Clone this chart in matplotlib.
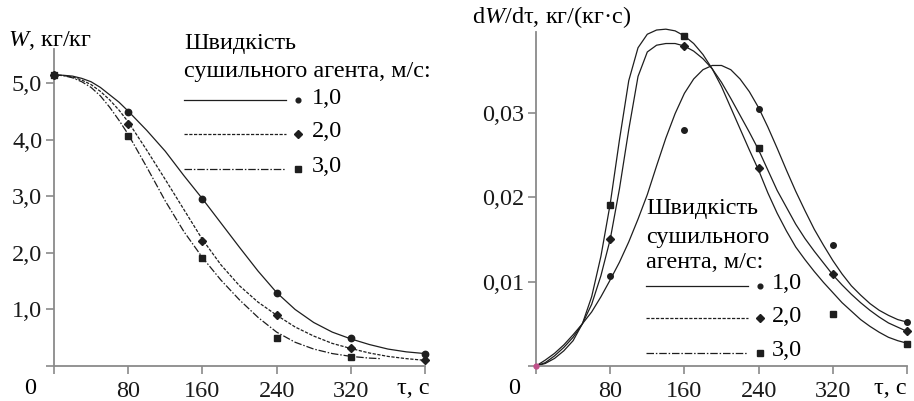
import matplotlib
matplotlib.use("Agg")
import matplotlib.pyplot as plt
from matplotlib.lines import Line2D

plt.rcParams['font.family'] = ['Liberation Serif', 'DejaVu Serif']
plt.rcParams['mathtext.fontset'] = 'custom'
plt.rcParams['mathtext.rm'] = 'Liberation Serif'
plt.rcParams['mathtext.it'] = 'Liberation Serif:italic'

# ---------------- data ----------------
speeds = ['1,0', '2,0', '3,0']

# measured moisture content W, kg/kg
t_pts = [0, 80, 160, 240, 320, 400]
W1_pts = [5.15, 4.50, 2.96, 1.29, 0.50, 0.22]
W2_pts = [5.15, 4.29, 2.21, 0.91, 0.32, 0.10]
t3_pts = [0, 80, 160, 240, 320]
W3_pts = [5.15, 4.07, 1.92, 0.50, 0.16]

# approximating curves W(t)
t_fit = [0, 10, 20, 30, 40, 50, 60, 70, 80, 100, 120, 140, 160, 180, 200, 220, 240, 260, 280, 300, 320, 340, 360, 380, 400]
W1_fit = [5.15, 5.145, 5.13, 5.09, 5.03, 4.93, 4.80, 4.67, 4.51, 4.17, 3.80, 3.37, 2.96, 2.53, 2.10, 1.68, 1.30, 1.00, 0.77, 0.60, 0.48, 0.38, 0.30, 0.25, 0.22]
W2_fit = [5.15, 5.14, 5.115, 5.06, 4.98, 4.86, 4.71, 4.53, 4.32, 3.82, 3.30, 2.77, 2.24, 1.79, 1.42, 1.13, 0.90, 0.69, 0.53, 0.40, 0.31, 0.23, 0.17, 0.13, 0.10]
t3_fit = [0, 10, 20, 30, 40, 50, 60, 70, 80, 100, 120, 140, 160, 180, 200, 220, 240, 260, 280, 300, 320, 340, 352]
W3_fit = [5.15, 5.14, 5.10, 5.03, 4.93, 4.78, 4.58, 4.35, 4.10, 3.52, 2.92, 2.38, 1.92, 1.52, 1.17, 0.86, 0.60, 0.42, 0.30, 0.22, 0.17, 0.14, 0.13]

# measured drying rate dW/dt, kg/(kg*s)
rate_t = [80, 160, 240, 320, 400]
R1_pts = [0.0107, 0.0280, 0.0305, 0.0143, 0.0052]
R2_pts = [0.0150, 0.0379, 0.0235, 0.0109, 0.0041]
R3_pts = [0.0191, 0.0391, 0.0258, 0.0062, 0.0026]

# approximating curves dW/dt (every 10 s)
t_rate = [0, 10, 20, 30, 40, 50, 60, 70, 80, 90, 100, 110, 120, 130, 140, 150, 160, 170, 180, 190,
          200, 210, 220, 230, 240, 250, 260, 270, 280, 290, 300, 310, 320, 330, 340, 350, 360, 370, 380, 390, 400]
RA_fit = [0, 0.0003, 0.0009, 0.0018, 0.0030, 0.0050, 0.0082, 0.0130, 0.0192, 0.0268, 0.0338, 0.0377, 0.0393, 0.0398,
          0.0399, 0.0397, 0.0391, 0.0382, 0.0369, 0.0352, 0.0331, 0.0306, 0.0281, 0.0256, 0.0232, 0.0205, 0.0181,
          0.0160, 0.0141, 0.0126, 0.0112, 0.0099, 0.0087, 0.0075, 0.0065, 0.0055, 0.0047, 0.0040, 0.0034, 0.0030, 0.0027]
RB_fit = [0, 0.0004, 0.0012, 0.0022, 0.0034, 0.0050, 0.0073, 0.0107, 0.0150, 0.0210, 0.0280, 0.0343, 0.0372, 0.0380,
          0.0382, 0.0382, 0.0379, 0.0373, 0.0364, 0.0352, 0.0336, 0.0317, 0.0297, 0.0277, 0.0256, 0.0232, 0.0208,
          0.0188, 0.0168, 0.0151, 0.0136, 0.0122, 0.0108, 0.0096, 0.0085, 0.0075, 0.0066, 0.0058, 0.0051, 0.0046, 0.0041]
RC_fit = [0, 0.0007, 0.0015, 0.0025, 0.0037, 0.0050, 0.0064, 0.0082, 0.0102, 0.0123, 0.0147, 0.0174, 0.0203, 0.0237,
          0.0270, 0.0299, 0.0323, 0.0340, 0.0351, 0.0356, 0.0356, 0.0351, 0.0340, 0.0325, 0.0306, 0.0283, 0.0258,
          0.0232, 0.0207, 0.0184, 0.0162, 0.0143, 0.0125, 0.0109, 0.0095, 0.0084, 0.0074, 0.0066, 0.0060, 0.0055, 0.0052]

x_ticks = [0, 80, 160, 240, 320, 400]
x_ticklabels = ['', '80', '160', '240', '320', '']
W_ticks = [0, 1, 2, 3, 4, 5]
W_ticklabels = ['', '1,0', '2,0', '3,0', '4,0', '5,0']
R_ticks = [0, 0.01, 0.02, 0.03]
R_ticklabels = ['', '0,01', '0,02', '0,03']

# ---------------- figure ----------------
W, H = 914, 401
fig = plt.figure(figsize=(W / 100, H / 100), dpi=100)

def fx(px):
    return px / W

def fy(py):
    return 1 - py / H

FS = 17.5
AX_COL = '#8a8a8a'
LN_COL = '#1e1e1e'
MK_COL = '#1e1e1e'
styles = ['-', (0, (2.6, 1.2)), (0, (6, 1.5, 1.2, 1.5))]
markers = ['o', 'D', 's']

def style_axes(ax):
    for s in ['top', 'right']:
        ax.spines[s].set_visible(False)
    for s in ['left', 'bottom']:
        ax.spines[s].set_color(AX_COL)
        ax.spines[s].set_linewidth(1.3)
    ax.tick_params(axis='both', direction='out', length=5.5, width=1.2,
                   color=AX_COL, labelsize=FS, labelcolor='#1a1a1a')
    ax.tick_params(axis='y', pad=3)
    ax.tick_params(axis='x', pad=5)
    ax.patch.set_alpha(0)

# ---- left axes ----
axL = fig.add_axes([fx(54), fy(366), fx(425) - fx(54), fy(49) - fy(366)])
style_axes(axL)
axL.set_xlim(0, 400)
axL.set_ylim(0, 5.61)
axL.set_xticks(x_ticks, x_ticklabels)
axL.set_yticks(W_ticks, W_ticklabels)

axL.plot(t_fit, W1_fit, color=LN_COL, lw=0.9, ls=styles[0], clip_on=False)
axL.plot(t_fit, W2_fit, color=LN_COL, lw=0.9, ls=styles[1], clip_on=False)
axL.plot(t3_fit, W3_fit, color=LN_COL, lw=0.9, ls=styles[2], clip_on=False)
axL.plot(t3_pts, W3_pts, ls='none', marker='s', ms=4.3, color=MK_COL, clip_on=False, zorder=4)
axL.plot(t_pts, W1_pts, ls='none', marker='o', ms=4.6, color=MK_COL, clip_on=False, zorder=4)
axL.plot(t_pts, W2_pts, ls='none', marker='D', ms=4.3, color=MK_COL, clip_on=False, zorder=5)

# ---- right axes ----
axR = fig.add_axes([fx(536), fy(366), fx(907) - fx(536), fy(31.7) - fy(366)])
style_axes(axR)
axR.set_xlim(0, 400)
axR.set_ylim(0, 0.0396)
axR.set_xticks(x_ticks, x_ticklabels)
axR.set_yticks(R_ticks, R_ticklabels)

axR.plot(t_rate, RA_fit, color=LN_COL, lw=0.9, clip_on=False)
axR.plot(t_rate, RB_fit, color=LN_COL, lw=0.9, clip_on=False)
axR.plot(t_rate, RC_fit, color=LN_COL, lw=0.9, clip_on=False)
axR.plot(rate_t, R1_pts, ls='none', marker='o', ms=4.0, color=MK_COL, clip_on=False, zorder=4)
axR.plot(rate_t, R2_pts, ls='none', marker='D', ms=4.0, color=MK_COL, clip_on=False, zorder=4)
axR.plot(rate_t, R3_pts, ls='none', marker='s', ms=4.0, color=MK_COL, clip_on=False, zorder=4)
axR.plot([0], [0], ls='none', marker='o', ms=3.5, color='#c0508a', clip_on=False, zorder=5)

# ---- axis titles and corner labels ----
fig.text(fx(8), fy(40), r'$W$, кг/кг', fontsize=FS, va='center', ha='left')
fig.text(fx(472), fy(17), r'd$W$/dτ, кг/(кг·с)', fontsize=FS, va='center', ha='left')
fig.text(fx(30), fy(388), '0', fontsize=FS, va='center', ha='center')
fig.text(fx(514), fy(388), '0', fontsize=FS, va='center', ha='center')
fig.text(fx(430), fy(388), 'τ, с', fontsize=FS, va='center', ha='right')
fig.text(fx(907), fy(388), 'τ, с', fontsize=FS, va='center', ha='right')

# ---- legends ----
def legend_block(title_lines, title_x, title_ys, x0, x1, xm, xl, row_ys, msizes):
    for txt, yy in zip(title_lines, title_ys):
        fig.text(fx(title_x), fy(yy), txt, fontsize=FS, va='center', ha='left')
    for i, yy in enumerate(row_ys):
        fig.add_artist(Line2D([fx(x0), fx(x1)], [fy(yy), fy(yy)], color=LN_COL,
                              lw=0.9, ls=styles[i], transform=fig.transFigure))
        fig.add_artist(Line2D([fx(xm)], [fy(yy)], ls='none', marker=markers[i],
                              ms=msizes[i], color=MK_COL, transform=fig.transFigure))
        fig.text(fx(xl), fy(yy - 2), speeds[i], fontsize=FS, va='center', ha='left')

legend_block(['Швидкість', 'сушильного агента, м/с:'], 184, [43, 72],
             184, 286, 297.5, 312, [100, 134, 169], [3.4, 3.8, 3.8])
legend_block(['Швидкість', 'сушильного', 'агента, м/с:'], 646, [209, 237, 263],
             646, 748, 760, 772, [285.5, 318, 353], [3.4, 3.8, 3.8])

fig.savefig('out.png', dpi=100)
